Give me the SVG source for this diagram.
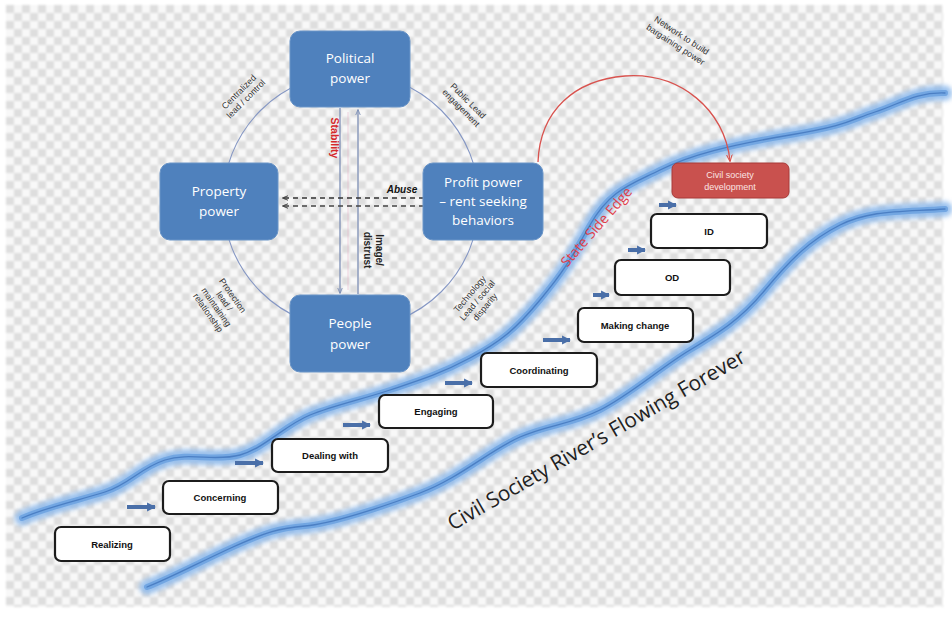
<svg xmlns="http://www.w3.org/2000/svg" width="952" height="627" viewBox="0 0 952 627">
  <defs>
    <pattern id="checker" width="16" height="16" patternUnits="userSpaceOnUse" x="6" y="5">
      <rect width="16" height="16" fill="#f8f8f8"/>
      <rect width="8" height="8" fill="#dedede"/>
      <rect x="8" y="8" width="8" height="8" fill="#dedede"/>
    </pattern>
    <filter id="soft" x="-5%" y="-5%" width="110%" height="110%">
      <feGaussianBlur stdDeviation="1.1"/>
    </filter>
    <filter id="glow" x="-10%" y="-20%" width="120%" height="140%">
      <feGaussianBlur stdDeviation="2.5"/>
    </filter>
    <marker id="stepHead" viewBox="0 0 10 10" refX="9" refY="5" markerWidth="2.2" markerHeight="2.4" orient="auto" markerUnits="strokeWidth">
      <path d="M0,0 L10,5 L0,10 z" fill="#4a6fa8"/>
    </marker>
    <marker id="thinHead" viewBox="0 0 10 10" refX="9" refY="5" markerWidth="6" markerHeight="6" orient="auto" markerUnits="userSpaceOnUse">
      <path d="M0,1 L10,5 L0,9" fill="none" stroke="#7d8fb5" stroke-width="1.5"/>
    </marker>
    <marker id="dashHead" viewBox="0 0 10 10" refX="9" refY="5" markerWidth="6" markerHeight="6" orient="auto" markerUnits="userSpaceOnUse">
      <path d="M0,1 L10,5 L0,9" fill="none" stroke="#333" stroke-width="1.5"/>
    </marker>
    <marker id="redHead" viewBox="0 0 10 10" refX="9" refY="5" markerWidth="7" markerHeight="7" orient="auto" markerUnits="userSpaceOnUse">
      <path d="M0,1 L10,5 L0,9" fill="none" stroke="#d9534f" stroke-width="1.5"/>
    </marker>
  </defs>
  <style>
    .power rect { fill: #4f81bd; stroke: #6a95c8; stroke-width: 1; }
    .power text { fill: #ffffff; font-family: "Open Sans", "Liberation Sans", sans-serif; font-size: 13.5px; text-anchor: middle; }
    .step rect { fill: #ffffff; stroke: #1c1c1c; stroke-width: 2.2; }
    .step text { fill: #111; font-family: "Liberation Sans", sans-serif; font-size: 9.5px; font-weight: bold; text-anchor: middle; }
    .bankGlow { fill: none; stroke: #8ab8ec; stroke-width: 15; stroke-linecap: round; opacity: 0.85; }
    .bankMid { fill: none; stroke: #72a6e2; stroke-width: 6; stroke-linecap: round; }
    .bankLine { fill: none; stroke: #4b7fc4; stroke-width: 1.3; stroke-linecap: round; }
    .note { fill: #333; font-family: "Liberation Sans", sans-serif; font-size: 8.8px; text-anchor: middle; }
    .stepArrow { stroke: #4a6fa8; stroke-width: 4; marker-end: url(#stepHead); }
  </style>

  <!-- canvas -->
  <rect width="952" height="627" fill="#ffffff"/>
  <rect x="6" y="5" width="937" height="602" fill="url(#checker)" filter="url(#soft)"/>

  <!-- river banks -->
  <g id="river">
    <path class="bankGlow" filter="url(#glow)" d="M22,518 C50,506 80,500 105,492 S140,468 165,460 S215,462 240,455 S285,425 310,415 S360,400 390,390 S440,374 470,358 S515,330 540,300 S570,260 590,225 S630,185 660,170 S730,145 790,135 S850,120 875,112 S915,92 945,93"/>
    <path class="bankMid" d="M22,518 C50,506 80,500 105,492 S140,468 165,460 S215,462 240,455 S285,425 310,415 S360,400 390,390 S440,374 470,358 S515,330 540,300 S570,260 590,225 S630,185 660,170 S730,145 790,135 S850,120 875,112 S915,92 945,93"/>
    <path class="bankLine" d="M22,518 C50,506 80,500 105,492 S140,468 165,460 S215,462 240,455 S285,425 310,415 S360,400 390,390 S440,374 470,358 S515,330 540,300 S570,260 590,225 S630,185 660,170 S730,145 790,135 S850,120 875,112 S915,92 945,93"/>
    <path class="bankGlow" filter="url(#glow)" d="M147,587 C170,578 200,562 233,547 S280,528 305,526 S380,508 420,493 S490,450 520,437 S570,425 600,410 S660,368 690,350 S740,320 765,290 S810,240 840,225 S900,212 945,209"/>
    <path class="bankMid" d="M147,587 C170,578 200,562 233,547 S280,528 305,526 S380,508 420,493 S490,450 520,437 S570,425 600,410 S660,368 690,350 S740,320 765,290 S810,240 840,225 S900,212 945,209"/>
    <path class="bankLine" d="M147,587 C170,578 200,562 233,547 S280,528 305,526 S380,508 420,493 S490,450 520,437 S570,425 600,410 S660,368 690,350 S740,320 765,290 S810,240 840,225 S900,212 945,209"/>
  </g>

  <!-- power circle -->
  <circle cx="351" cy="201" r="128" fill="none" stroke="#8597c4" stroke-width="1.1"/>

  <!-- connectors -->
  <g id="connectors">
    <line x1="340" y1="108" x2="340" y2="293" stroke="#7d8fb5" stroke-width="1.3" marker-end="url(#thinHead)"/>
    <line x1="358" y1="294" x2="358" y2="110" stroke="#7d8fb5" stroke-width="1.3" marker-end="url(#thinHead)"/>
    <line x1="348" y1="112" x2="348" y2="290" stroke="#e8b4c8" stroke-width="0.8" opacity="0.7"/>
    <line x1="424" y1="198" x2="283" y2="198" stroke="#333" stroke-width="1.3" stroke-dasharray="5,4" marker-end="url(#dashHead)"/>
    <line x1="424" y1="206" x2="283" y2="206" stroke="#444" stroke-width="1.3" stroke-dasharray="5,4" marker-end="url(#dashHead)"/>
    <path d="M538,162 C540,110 575,80 625,76 C680,72 725,110 730,161" fill="none" stroke="#d9534f" stroke-width="1.3" marker-end="url(#redHead)"/>
    <line class="stepArrow" x1="127" y1="507" x2="155" y2="507"/>
    <line class="stepArrow" x1="235" y1="463" x2="263" y2="463"/>
    <line class="stepArrow" x1="343" y1="425" x2="370" y2="425"/>
    <line class="stepArrow" x1="445" y1="383" x2="472" y2="383"/>
    <line class="stepArrow" x1="543" y1="340" x2="570" y2="340"/>
    <line class="stepArrow" x1="593" y1="295" x2="609" y2="295"/>
    <line class="stepArrow" x1="628" y1="250" x2="645" y2="250"/>
    <line class="stepArrow" x1="659" y1="205" x2="676" y2="205"/>
  </g>

  <!-- power nodes -->
  <g id="political" class="power">
    <rect x="290" y="31" width="120" height="76" rx="10"/>
    <text x="350" y="63">Political</text>
    <text x="350" y="83">power</text>
  </g>
  <g id="property" class="power">
    <rect x="160" y="163" width="118" height="77" rx="10"/>
    <text x="219" y="196">Property</text>
    <text x="219" y="216">power</text>
  </g>
  <g id="profit" class="power">
    <rect x="423" y="163" width="120" height="77" rx="10"/>
    <text x="483" y="187">Profit power</text>
    <text x="483" y="206">– rent seeking</text>
    <text x="483" y="225">behaviors</text>
  </g>
  <g id="people" class="power">
    <rect x="290" y="295" width="120" height="77" rx="10"/>
    <text x="350" y="328">People</text>
    <text x="350" y="349">power</text>
  </g>

  <!-- labels on the circle and links -->
  <g id="relationLabels">
    <text class="note" transform="translate(241,94) rotate(-45)"><tspan x="0" y="0">Centralized</tspan><tspan x="0" y="10">lead / control</tspan></text>
    <text class="note" transform="translate(466,103) rotate(45)"><tspan x="0" y="0">Public Lead</tspan><tspan x="0" y="10">engagement</tspan></text>
    <text class="note" transform="translate(222,303) rotate(55)"><tspan x="0" y="-10">Protection</tspan><tspan x="0" y="0">lead /</tspan><tspan x="0" y="10">maintaining</tspan><tspan x="0" y="20">relationship</tspan></text>
    <text class="note" transform="translate(472,296) rotate(-50)"><tspan x="0" y="0">Technology</tspan><tspan x="0" y="10">Lead / social</tspan><tspan x="0" y="20">disparity</tspan></text>
    <text transform="translate(331,138) rotate(90)" fill="#d6282b" font-family="Liberation Sans, sans-serif" font-size="10.5" font-weight="bold" text-anchor="middle">Stability</text>
    <text transform="translate(372,250) rotate(90)" fill="#222" font-family="Liberation Sans, sans-serif" font-size="10" font-weight="bold" text-anchor="middle"><tspan x="0" y="-4">Image/</tspan><tspan x="0" y="8">distrust</tspan></text>
    <text x="402" y="193" fill="#111" font-family="Liberation Sans, sans-serif" font-size="10" font-weight="bold" font-style="italic" text-anchor="middle">Abuse</text>
    <text class="note" font-size="9.5" transform="translate(680,38) rotate(33)"><tspan x="0" y="0">Network to build</tspan><tspan x="0" y="11">bargaining power</tspan></text>
  </g>

  <!-- civil society steps -->
  <g id="civilDevelopment">
    <rect x="672" y="163" width="117" height="35" rx="6" fill="#c9514e" stroke="#a83a38" stroke-width="1"/>
    <text x="730" y="178" fill="#fbe4e3" font-family="Liberation Sans, sans-serif" font-size="9" text-anchor="middle">Civil society</text>
    <text x="730" y="190" fill="#fbe4e3" font-family="Liberation Sans, sans-serif" font-size="9" text-anchor="middle">development</text>
  </g>
  <g id="stepID" class="step">
    <rect x="651" y="214" width="116" height="34" rx="6"/>
    <text x="709" y="235">ID</text>
  </g>
  <g id="stepOD" class="step">
    <rect x="615" y="260" width="115" height="35" rx="6"/>
    <text x="672" y="281">OD</text>
  </g>
  <g id="stepMakingChange" class="step">
    <rect x="578" y="308" width="115" height="34" rx="6"/>
    <text x="635" y="329">Making change</text>
  </g>
  <g id="stepCoordinating" class="step">
    <rect x="481" y="353" width="116" height="34" rx="6"/>
    <text x="539" y="374">Coordinating</text>
  </g>
  <g id="stepEngaging" class="step">
    <rect x="379" y="395" width="114" height="33" rx="6"/>
    <text x="436" y="415">Engaging</text>
  </g>
  <g id="stepDealing" class="step">
    <rect x="272" y="439" width="116" height="33" rx="6"/>
    <text x="330" y="459">Dealing with</text>
  </g>
  <g id="stepConcerning" class="step">
    <rect x="163" y="481" width="115" height="33" rx="6"/>
    <text x="220" y="501">Concerning</text>
  </g>
  <g id="stepRealizing" class="step">
    <rect x="55" y="527" width="115" height="34" rx="6"/>
    <text x="112" y="548">Realizing</text>
  </g>

  <!-- river captions -->
  <text transform="translate(600,230) rotate(-49)" fill="#e0404a" font-family="Open Sans, Liberation Sans, sans-serif" font-size="14" text-anchor="middle">State Side Edge</text>
  <text transform="translate(600,446) rotate(-30)" fill="#222" font-family="Open Sans, Liberation Sans, sans-serif" font-size="21" text-anchor="middle" textLength="340" lengthAdjust="spacingAndGlyphs">Civil Society River’s Flowing Forever</text>
</svg>
